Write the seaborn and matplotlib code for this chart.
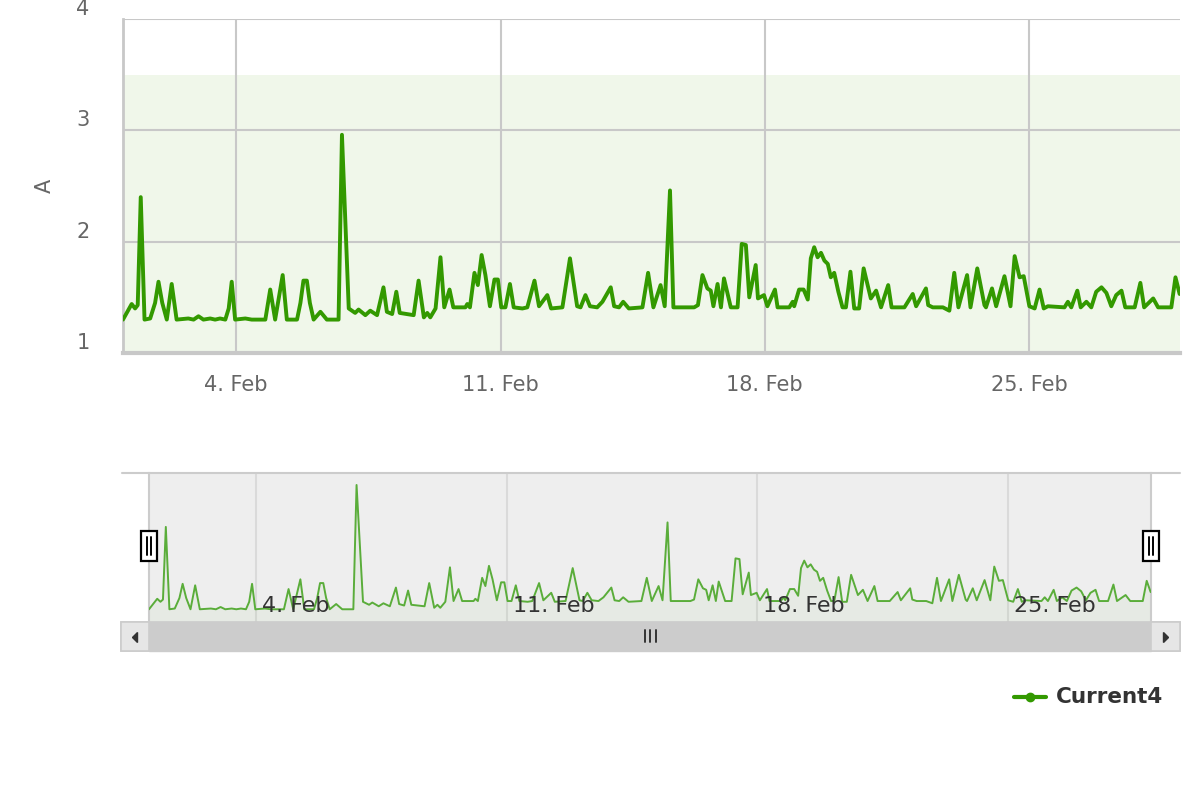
import numpy as np
import pandas as pd
import matplotlib
matplotlib.use("Agg")
import matplotlib.pyplot as plt
import matplotlib.dates as mdates
import matplotlib.transforms as mtransforms
from matplotlib.patches import Rectangle, Polygon
import seaborn as sns

# Current4 readings (days after 1 Feb, amps)
start = pd.Timestamp("2024-02-01")
days = [0.00, 0.23, 0.32, 0.39, 0.47, 0.57, 0.72, 0.85, 0.94, 1.04, 1.16, 1.29, 1.42,
        1.73, 1.87, 2.00, 2.13, 2.31, 2.44, 2.57, 2.71, 2.80, 2.88, 2.97, 3.24, 3.41,
        3.77, 3.90, 4.03, 4.23, 4.34, 4.61, 4.70, 4.78, 4.87, 4.95, 5.05, 5.23, 5.40,
        5.71, 5.80, 5.98, 6.15, 6.24, 6.42, 6.55, 6.73, 6.90, 6.99, 7.13, 7.24, 7.33,
        7.70, 7.83, 7.97, 8.06, 8.14, 8.28, 8.41, 8.51, 8.65, 8.75, 9.07, 9.12, 9.19,
        9.31, 9.40, 9.50, 9.60, 9.72, 9.84, 9.93, 10.02, 10.13, 10.25, 10.35, 10.58,
        10.71, 10.90, 11.02, 11.24, 11.34, 11.64, 11.84, 12.03, 12.12, 12.25, 12.37,
        12.56, 12.70, 12.92, 13.01, 13.14, 13.25, 13.40, 13.76, 13.91, 14.05, 14.24,
        14.35, 14.49, 14.58, 15.13, 15.23, 15.35, 15.48, 15.57, 15.64, 15.75, 15.84,
        15.92, 16.10, 16.28, 16.39, 16.50, 16.59, 16.76, 16.82, 16.98, 17.07, 17.27,
        17.34, 17.65, 17.74, 17.78, 17.91, 18.03, 18.14, 18.22, 18.31, 18.40, 18.49,
        18.58, 18.67, 18.75, 18.84, 18.95, 19.06, 19.15, 19.27, 19.37, 19.50, 19.62,
        19.81, 19.95, 20.08, 20.27, 20.36, 20.70, 20.92, 21.01, 21.27, 21.33, 21.45,
        21.72, 21.89, 22.02, 22.13, 22.36, 22.45, 22.63, 22.82, 22.86, 23.02, 23.13,
        23.35, 23.51, 23.62, 23.75, 23.86, 24.01, 24.15, 24.28, 24.39, 24.50, 24.94,
        25.03, 25.12, 25.28, 25.37, 25.52, 25.65, 25.78, 25.92, 26.05, 26.18, 26.31,
        26.45, 26.55, 26.80, 26.95, 27.05, 27.29, 27.42, 27.77, 27.88, 27.99]
amps = [1.30, 1.44, 1.40, 1.43, 2.40, 1.30, 1.31, 1.45, 1.64, 1.45, 1.30, 1.62, 1.30,
        1.31, 1.30, 1.33, 1.30, 1.31, 1.30, 1.31, 1.30, 1.40, 1.64, 1.30, 1.31, 1.30,
        1.30, 1.57, 1.30, 1.70, 1.30, 1.30, 1.45, 1.65, 1.65, 1.45, 1.30, 1.37, 1.30,
        1.30, 2.96, 1.40, 1.36, 1.39, 1.34, 1.38, 1.34, 1.59, 1.37, 1.35, 1.55, 1.36,
        1.34, 1.65, 1.32, 1.36, 1.32, 1.40, 1.86, 1.41, 1.57, 1.41, 1.41, 1.44, 1.41,
        1.72, 1.61, 1.88, 1.70, 1.42, 1.66, 1.66, 1.41, 1.41, 1.62, 1.41, 1.40,
        1.41, 1.65, 1.42, 1.52, 1.40, 1.41, 1.85, 1.42, 1.41, 1.52, 1.42,
        1.41, 1.46, 1.59, 1.42, 1.41, 1.46, 1.40, 1.41, 1.72, 1.41, 1.61,
        1.42, 2.46, 1.41, 1.41, 1.43, 1.70, 1.58, 1.56, 1.42, 1.62, 1.41,
        1.67, 1.41, 1.41, 1.98, 1.97, 1.50, 1.79, 1.49, 1.52, 1.42, 1.57,
        1.41, 1.41, 1.46, 1.42, 1.57, 1.57, 1.48, 1.85, 1.95, 1.86, 1.90,
        1.83, 1.80, 1.68, 1.72, 1.55, 1.41, 1.41, 1.73, 1.40, 1.40, 1.76,
        1.49, 1.56, 1.41, 1.61, 1.41, 1.41, 1.53, 1.42, 1.58, 1.43, 1.41,
        1.41, 1.38, 1.72, 1.41, 1.70, 1.41, 1.76, 1.43, 1.41, 1.58, 1.42,
        1.69, 1.42, 1.87, 1.68, 1.69, 1.42, 1.40, 1.57, 1.40, 1.42, 1.41,
        1.46, 1.41, 1.56, 1.41, 1.46, 1.41, 1.55, 1.59, 1.54, 1.42, 1.52,
        1.56, 1.41, 1.41, 1.63, 1.41, 1.49, 1.41, 1.41, 1.68, 1.53]

tick_days = [3, 10, 17, 24]
tick_labels = ["4. Feb", "11. Feb", "18. Feb", "25. Feb"]
y_ticks = [1, 2, 3, 4]
band = (1.0, 3.5)
series_name = "Current4"

df = pd.DataFrame({"time": start + pd.to_timedelta(days, unit="D"), "amps": amps})
tick_dates = [start + pd.Timedelta(days=d) for d in tick_days]
x0, x1 = start, start + pd.Timedelta(days=28)

sns.set_style("white")
plt.rcParams["font.family"] = ["DejaVu Sans"]

W, H = 1200, 800
fig = plt.figure(figsize=(12, 8), dpi=100)


def box(l, t, r, b):
    return [l / W, 1 - b / H, (r - l) / W, (b - t) / H]


grid_c = "#c8c8c8"
green = "#339900"

# ---- main chart
ax = fig.add_axes(box(123, 19, 1180, 353))
ax.axhspan(band[0], band[1], color="#f0f7ea", zorder=0, lw=0)
sns.lineplot(data=df, x="time", y="amps", ax=ax, color=green, lw=2.8,
             solid_joinstyle="round", zorder=3)
ax.set_xlim(x0, x1)
ax.set_ylim(1, 4)
ax.set_yticks(y_ticks)
ax.set_yticklabels([str(v) for v in y_ticks])
ax.set_xticks(tick_dates)
ax.set_xticklabels(tick_labels)
ax.grid(True, color=grid_c, lw=1.5, zorder=1)
ax.set_axisbelow(True)
for s in ["top", "right"]:
    ax.spines[s].set_visible(False)
ax.spines["left"].set_color(grid_c)
ax.spines["left"].set_linewidth(2)
ax.spines["bottom"].set_color(grid_c)
ax.spines["bottom"].set_linewidth(3)
ax.spines["bottom"].set_zorder(4)
ax.tick_params(axis="y", length=0, pad=24, labelsize=15, labelcolor="#666666")
ax.tick_params(axis="x", length=14, width=1.2, color="#ccd6eb", direction="out",
               pad=2, labelsize=15, labelcolor="#666666")
for lab in ax.get_yticklabels():
    lab.set_va("bottom")
ax.set_xlabel("")
ax.set_ylabel("A", fontsize=15, color="#666666")
ax.yaxis.set_label_coords((55 - 123) / 1057, 0.5)

# ---- navigator
nav = fig.add_axes(box(149, 473, 1151, 622))
nav.set_facecolor("#eeeeee")
sns.lineplot(data=df, x="time", y="amps", ax=nav, color="#5aad3a", lw=1.4, zorder=3)
nav.fill_between(df["time"], df["amps"], 1.0, color="#5aad3a", alpha=0.05, lw=0)
nav.set_xlim(x0, x1)
nav.set_ylim(1.13, 3.12)
nav.set_xticks(tick_dates)
nav.set_yticks([])
nav.set_xticklabels([])
nav.tick_params(length=0)
nav.grid(True, axis="x", color="#dadada", lw=1.5, zorder=1)
nav.set_xlabel("")
nav.set_ylabel("")
for s in ["top", "bottom"]:
    nav.spines[s].set_visible(False)
for s in ["left", "right"]:
    nav.spines[s].set_color("#cccccc")
    nav.spines[s].set_linewidth(1.5)
trans = mtransforms.blended_transform_factory(nav.transData, nav.transAxes)
for d, lab in zip(tick_dates, tick_labels):
    nav.text(d + pd.Timedelta(hours=4), 0.11, lab, transform=trans, fontsize=16,
             color="#333333", ha="left", va="center", zorder=5)

# ---- chrome: navigator outline, handles, scrollbar, legend
ov = fig.add_axes([0, 0, 1, 1], zorder=10)
ov.set_xlim(0, W)
ov.set_ylim(H, 0)
ov.axis("off")
ov.patch.set_alpha(0)
ov.plot([122, 1180], [473, 473], color="#cccccc", lw=1.5)
for hx in [149, 1151]:
    ov.add_patch(Rectangle((hx - 8, 531), 16, 30, facecolor="white",
                           edgecolor="black", lw=1.6))
    for dx in [-2, 2]:
        ov.plot([hx + dx, hx + dx], [537, 555], color="black", lw=1.4)
ov.add_patch(Rectangle((121, 622), 1059, 29, facecolor="#f2f2f2",
                       edgecolor="#cccccc", lw=1.2))
ov.add_patch(Rectangle((149, 622), 1002, 29, facecolor="#cccccc",
                       edgecolor="#cccccc", lw=1))
ov.add_patch(Rectangle((121, 622), 28, 29, facecolor="#e6e6e6",
                       edgecolor="#cccccc", lw=1.2))
ov.add_patch(Rectangle((1151, 622), 29, 29, facecolor="#e6e6e6",
                       edgecolor="#cccccc", lw=1.2))
ov.add_patch(Polygon([[137.5, 632.5], [137.5, 642.5], [132.5, 637.5]], color="#333333"))
ov.add_patch(Polygon([[1163.5, 632.5], [1163.5, 642.5], [1168.5, 637.5]], color="#333333"))
for rx in [644.5, 650, 655.5]:
    ov.plot([rx, rx], [630, 642], color="#333333", lw=1.4)
ov.plot([1014, 1046], [697, 697], color=green, lw=3)
ov.plot([1030], [697], "o", color=green, ms=6)
ov.text(1056, 697, series_name, fontsize=15.5, fontweight="bold", color="#333333",
        ha="left", va="center")

fig.savefig("out.png", dpi=100)
